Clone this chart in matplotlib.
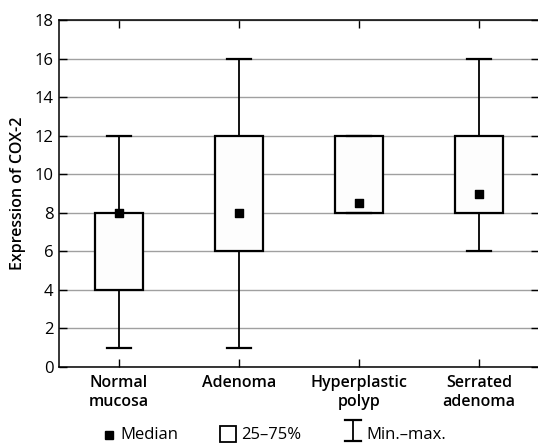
import matplotlib
matplotlib.use('Agg')
import matplotlib.pyplot as plt
from matplotlib.lines import Line2D
from matplotlib.patches import Rectangle

plt.rcParams['font.family'] = ['Open Sans', 'DejaVu Sans']

groups = ['Normal\nmucosa', 'Adenoma', 'Hyperplastic\npolyp', 'Serrated\nadenoma']
mins = [1, 1, 8, 6]
q1 = [4, 6, 8, 8]
medians = [8, 8, 8.5, 9]
q3 = [8, 12, 12, 12]
maxs = [12, 16, 12, 16]

stats = []
for i in range(len(groups)):
    stats.append({'whislo': mins[i], 'q1': q1[i], 'med': medians[i],
                  'q3': q3[i], 'whishi': maxs[i], 'label': groups[i]})

fig = plt.figure(figsize=(5.38, 4.43), dpi=100)
ax = fig.add_axes([59 / 538, 76 / 443, 480 / 538, 347 / 443])

pos = list(range(1, len(groups) + 1))
ax.bxp(stats, positions=pos, widths=0.4, capwidths=0.2, patch_artist=True,
       showfliers=False,
       boxprops=dict(facecolor='#fdfdfd', edgecolor='black', linewidth=1.6),
       whiskerprops=dict(color='black', linewidth=1.3),
       capprops=dict(color='black', linewidth=1.6),
       medianprops=dict(visible=False), zorder=3)
ax.scatter(pos, medians, marker='s', s=38, color='black', zorder=5)

ax.set_xlim(0.5, 4.5)
ax.set_ylim(0, 18)
ax.set_yticks(range(0, 19, 2))
ax.yaxis.grid(True, color='#a0a0a0', linewidth=1.0, zorder=0)
ax.set_axisbelow(True)
ax.tick_params(direction='in', length=5.5, width=1, top=True, right=True,
               labelsize=12, pad=4)
ax.tick_params(axis='x', labelsize=11.5, pad=6)
for lab in ax.get_xticklabels():
    lab.set_fontweight('semibold')
for s in ax.spines.values():
    s.set_linewidth(1.1)
ax.set_ylabel('Expression of COX-2', fontweight='semibold', fontsize=11.5, labelpad=6)

# legend at bottom
fy = 8 / 443
fs = 12
fig.add_artist(Rectangle((105 / 538, fy - 4 / 443), 8 / 538, 8 / 443,
                         transform=fig.transFigure, color='black'))
fig.text(120 / 538, fy, 'Median', fontsize=fs, va='center')
fig.add_artist(Rectangle((220 / 538, fy - 7 / 443), 16 / 538, 16 / 443,
                         transform=fig.transFigure, facecolor='white',
                         edgecolor='black', linewidth=1.3))
fig.text(241 / 538, fy, '25–75%', fontsize=fs, va='center')
xc = 353 / 538
ylo, yhi = 2 / 443, 23 / 443
fig.add_artist(Line2D([xc, xc], [ylo, yhi],
                      transform=fig.transFigure, color='black', linewidth=1.3))
for yy in [ylo, yhi]:
    fig.add_artist(Line2D([xc - 8 / 538, xc + 8 / 538], [yy, yy],
                          transform=fig.transFigure, color='black', linewidth=1.6))
fig.text(366 / 538, fy, 'Min.–max.', fontsize=fs, va='center')

fig.savefig('out.png', dpi=100)
